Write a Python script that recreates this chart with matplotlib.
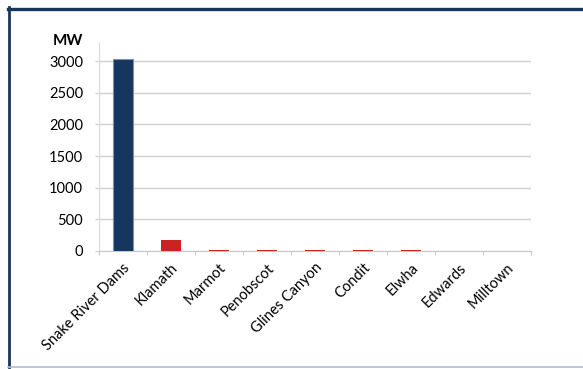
import matplotlib.pyplot as plt
import numpy as np
from matplotlib.lines import Line2D

# Installed capacity of removed / proposed dams
dams = ["Snake River Dams", "Klamath", "Marmot", "Penobscot", "Glines Canyon",
        "Condit", "Elwha", "Edwards", "Milltown"]
mw = [3030, 169, 22, 20, 14, 15, 12, 3.5, 3]
bar_colors = ["#17365d"] + ["#cc2222"] * 8
edge_colors = ["#5b9bd5"] + ["#cc2222"] * 8
edge_widths = [0.8] + [0] * 8

plt.rcParams["font.family"] = ["Lato", "DejaVu Sans"]

W, H = 583, 369
fig = plt.figure(figsize=(W / 100, H / 100), dpi=100)
ax = fig.add_axes([99 / W, 1 - 251 / H, (531 - 99) / W, (251 - 43) / H])

x = np.arange(len(dams))
ax.bar(x, mw, width=0.4, color=bar_colors, edgecolor=edge_colors, linewidth=edge_widths, zorder=3)

ax.set_xlim(-0.5, len(dams) - 0.5)
ax.set_ylim(0, 3285)
ax.set_yticks(np.arange(0, 3001, 500))
ax.yaxis.grid(True, color="#d0d0d0", linewidth=1)
ax.set_axisbelow(True)

for s in ["top", "right"]:
    ax.spines[s].set_visible(False)
ax.spines["left"].set_color("#d9d9d9")
ax.spines["bottom"].set_color("#c8c8c8")

ax.tick_params(axis="y", length=3, color="#d0d0d0", labelsize=10.5, pad=8.5)
# category ticks sit on the boundaries between bars
ax.set_xticks(np.arange(-0.5, len(dams)), minor=False)
ax.set_xticklabels([])
ax.tick_params(axis="x", which="major", length=3, color="#c8c8c8")
ax.set_xticks(x, minor=True)
ax.set_xticklabels(dams, minor=True, rotation=45, ha="right", rotation_mode="anchor", fontsize=10.5)
ax.tick_params(axis="x", which="minor", length=0, pad=7)

fig.text(83 / W, 1 - 41 / H, "MW", ha="right", va="center", fontsize=11, fontweight="bold")

# frame around the slide panel
fig.add_artist(Line2D([8 / W, 1], [1 - 8.5 / H] * 2, color="#17365d", linewidth=2.4))
fig.add_artist(Line2D([9 / W] * 2, [1 - 7 / H, 1 - 367 / H], color="#17365d", linewidth=2.0))
fig.add_artist(Line2D([8 / W, 1], [1 - 367.3 / H] * 2, color="#aebccc", linewidth=1.2))

fig.savefig("out.png", dpi=100)
